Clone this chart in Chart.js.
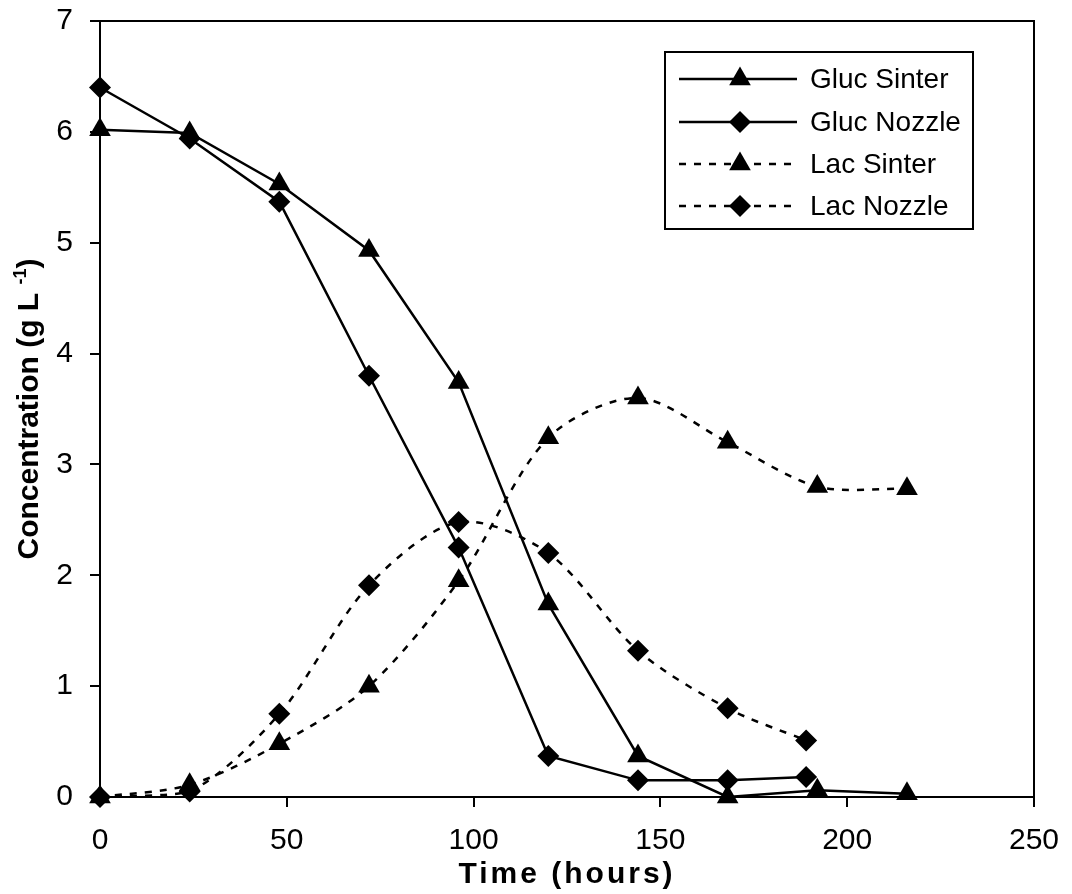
<!DOCTYPE html>
<html>
<head>
<meta charset="utf-8">
<script src="https://cdn.jsdelivr.net/npm/chart.js@4/dist/chart.umd.min.js"></script>
<style>
  html, body { margin: 0; padding: 0; background: #fff; }
  canvas { display: block; }
</style>
</head>
<body>
<canvas id="chart" width="1072" height="894"></canvas>
<script>
// Data
const hours = [0, 24, 48, 72, 96, 120, 144, 168, 192, 216];
const hoursNozzle = [0, 24, 48, 72, 96, 120, 144, 168, 189];
const glucSinter = [6.02, 5.99, 5.53, 4.93, 3.74, 1.74, 0.37, 0.0, 0.06, 0.03];
const glucNozzle = [6.40, 5.94, 5.37, 3.80, 2.25, 0.37, 0.15, 0.15, 0.18];
const lacSinter = [0.0, 0.11, 0.48, 1.0, 1.95, 3.24, 3.60, 3.20, 2.80, 2.78];
const lacNozzle = [0.0, 0.05, 0.75, 1.91, 2.48, 2.20, 1.32, 0.80, 0.51];
const seriesNames = ["Gluc Sinter", "Gluc Nozzle", "Lac Sinter", "Lac Nozzle"];
const xTicks = [0, 50, 100, 150, 200, 250];
const yTicks = [0, 1, 2, 3, 4, 5, 6, 7];

const FONT = "'Liberation Sans', Arial, sans-serif";
const DASH = [7, 8];

function pts(xs, ys) {
  return xs.map((x, i) => ({ x: x, y: ys[i] }));
}

function makeSet(name, xs, ys, style, dashed) {
  return {
    label: name,
    data: pts(xs, ys),
    borderColor: "#000",
    backgroundColor: "#000",
    borderWidth: 2.5,
    borderDash: dashed ? DASH : [],
    pointStyle: style,
    pointRadius: style === "triangle" ? 12.5 : 11,
    pointBorderWidth: 0,
    pointBackgroundColor: "#000",
    tension: dashed ? 0.3 : 0,
    clip: false
  };
}

// frame, axis titles and legend
const decorations = {
  id: "decorations",
  afterDraw(chart) {
    const ctx = chart.ctx;
    const a = chart.chartArea;
    ctx.save();
    ctx.strokeStyle = "#000";
    ctx.lineWidth = 2;
    ctx.setLineDash([]);
    ctx.strokeRect(a.left, a.top, a.right - a.left, a.bottom - a.top);

    // x title
    ctx.fillStyle = "#000";
    ctx.font = "bold 30px " + FONT;
    ctx.textAlign = "center";
    ctx.textBaseline = "alphabetic";
    ctx.letterSpacing = "3px";
    ctx.fillText("Time (hours)", (a.left + a.right) / 2, 883);
    ctx.letterSpacing = "0px";

    // y title with superscript
    ctx.save();
    ctx.translate(38, (a.top + a.bottom) / 2);
    ctx.rotate(-Math.PI / 2);
    ctx.textAlign = "left";
    const main = "Concentration (g L ";
    const sup = "-1";
    const close = ")";
    ctx.font = "bold 30px " + FONT;
    const w1 = ctx.measureText(main).width;
    const w3 = ctx.measureText(close).width;
    ctx.font = "bold 18px " + FONT;
    const w2 = ctx.measureText(sup).width;
    let x = -(w1 + w2 + w3) / 2;
    ctx.font = "bold 30px " + FONT;
    ctx.fillText(main, x, 0);
    x += w1;
    ctx.font = "bold 18px " + FONT;
    ctx.fillText(sup, x, -12);
    x += w2;
    ctx.font = "bold 30px " + FONT;
    ctx.fillText(close, x, 0);
    ctx.restore();

    // legend
    const bx = 665, by = 52, bw = 308, bh = 177;
    ctx.fillStyle = "#fff";
    ctx.fillRect(bx, by, bw, bh);
    ctx.lineWidth = 2;
    ctx.strokeStyle = "#000";
    ctx.strokeRect(bx, by, bw, bh);
    const rows = [79, 122, 164, 206];
    chart.data.datasets.forEach((ds, i) => {
      const y = rows[i];
      ctx.save();
      ctx.lineWidth = 2.5;
      ctx.setLineDash(ds.borderDash);
      ctx.beginPath();
      ctx.moveTo(679, y);
      ctx.lineTo(797, y);
      ctx.stroke();
      ctx.restore();
      ctx.fillStyle = "#000";
      Chart.helpers.drawPoint(ctx, {
        pointStyle: ds.pointStyle,
        radius: ds.pointRadius,
        rotation: 0,
        borderWidth: 0
      }, 740, y);
      ctx.fillStyle = "#000";
      ctx.font = "28px " + FONT;
      ctx.textAlign = "left";
      ctx.textBaseline = "middle";
      ctx.fillText(ds.label, 810, y + 1);
    });
    ctx.restore();
  }
};

new Chart(document.getElementById("chart"), {
  type: "line",
  data: {
    datasets: [
      makeSet(seriesNames[0], hours, glucSinter, "triangle", false),
      makeSet(seriesNames[1], hoursNozzle, glucNozzle, "rectRot", false),
      makeSet(seriesNames[2], hours, lacSinter, "triangle", true),
      makeSet(seriesNames[3], hoursNozzle, lacNozzle, "rectRot", true)
    ]
  },
  options: {
    responsive: false,
    animation: false,
    layout: { padding: { top: 21, right: 38, left: 0, bottom: 0 } },
    plugins: {
      legend: { display: false },
      tooltip: { enabled: false }
    },
    scales: {
      x: {
        type: "linear",
        min: 0,
        max: 250,
        afterBuildTicks: s => { s.ticks = xTicks.map(v => ({ value: v })); },
        afterFit: s => { s.height = 97; s.paddingLeft = 0; s.paddingRight = 0; },
        border: { display: true, color: "#000", width: 2 },
        grid: { drawOnChartArea: false, drawTicks: true, tickLength: 10, tickColor: "#000", lineWidth: 2 },
        ticks: { color: "#000", font: { family: FONT, size: 30 }, padding: 16, maxRotation: 0 }
      },
      y: {
        min: 0,
        max: 7,
        afterBuildTicks: s => { s.ticks = yTicks.map(v => ({ value: v })); },
        afterFit: s => { s.width = 100; s.paddingTop = 0; s.paddingBottom = 0; },
        border: { display: true, color: "#000", width: 2 },
        grid: { drawOnChartArea: false, drawTicks: true, tickLength: 10, tickColor: "#000", lineWidth: 2 },
        ticks: { color: "#000", font: { family: FONT, size: 30 }, padding: 17 }
      }
    }
  },
  plugins: [decorations]
});
</script>
</body>
</html>
